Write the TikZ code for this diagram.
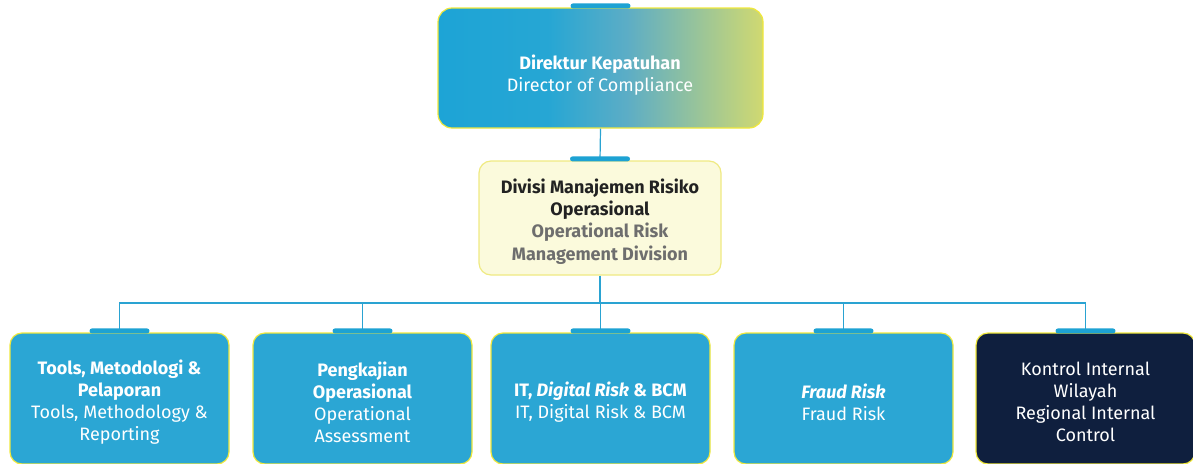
\documentclass[tikz,border=0pt]{standalone}
\usepackage{fontspec}
\setmainfont{Fira Sans}
\usetikzlibrary{calc}

\definecolor{linkblue}{RGB}{42,163,210}
\definecolor{tabblue}{RGB}{29,162,211}
\definecolor{unitblue}{RGB}{43,166,212}
\definecolor{unitnavy}{RGB}{15,31,62}
\definecolor{rimyellow}{RGB}{240,232,60}
\definecolor{paleyellow}{RGB}{251,250,220}
\definecolor{paleedge}{RGB}{239,234,130}
\definecolor{darktext}{RGB}{34,34,34}
\definecolor{greytext}{RGB}{110,110,110}

% left-to-right blend of the director box (path spans 25bp..75bp)
\pgfdeclarehorizontalshading{directorfade}{100bp}{%
  rgb(0bp)=(0.114,0.643,0.839);
  rgb(25bp)=(0.114,0.643,0.839);
  rgb(42bp)=(0.150,0.652,0.830);
  rgb(54bp)=(0.360,0.678,0.776);
  rgb(75bp)=(0.816,0.851,0.443);
  rgb(100bp)=(0.816,0.851,0.443)}

\tikzset{
  txt/.style={font=\fontsize{18}{22}\selectfont, align=center},
  unit/.style={draw=rimyellow, line width=1.2pt, rounded corners=12pt,
    minimum width=219pt, minimum height=131pt, inner sep=0pt},
  tabbar/.style={fill=tabblue, rounded corners=2.5pt, minimum width=60pt,
    minimum height=5pt, inner sep=0pt, yshift=1.5pt},
  link/.style={draw=linkblue, line width=1.2pt},
}

\begin{document}
\begin{tikzpicture}[x=1pt,y=-1pt]
\useasboundingbox (0,0) rectangle (1193,463);

% director
\node[draw=rimyellow, line width=1.2pt, rounded corners=14pt,
  shading=directorfade, minimum width=325pt, minimum height=120pt,
  inner sep=0pt] (dir) at (600.5,68) {};
\node[txt, text=white] (dirtxt) at (600,75)
  {\bfseries Direktur Kepatuhan\\Director of Compliance};

% division
\node[draw=paleedge, fill=paleyellow, line width=1.2pt, rounded corners=12pt,
  minimum width=242pt, minimum height=114pt, inner sep=0pt] (div) at (600,218) {};
\node[txt, font=\fontsize{18}{22.3}\selectfont\bfseries] (divtxt) at (600,221.5)
  {\textcolor{darktext}{Divisi Manajemen Risiko}\\
   \textcolor{darktext}{Operasional}\\
   \textcolor{greytext}{Operational Risk}\\
   \textcolor{greytext}{Management Division}};

% units
\node[unit, fill=unitblue] (u1) at (119.5,398.5) {};
\node[unit, fill=unitblue] (u2) at (362.5,398.5) {};
\node[unit, fill=unitblue] (u3) at (600.5,398.5) {};
\node[unit, fill=unitblue] (u4) at (843.5,398.5) {};
\node[unit, fill=unitnavy] (u5) at (1085.5,398.5) {};

\node[txt, text=white] (t1) at (119.5,402)
  {\bfseries Tools, Metodologi \&\\\bfseries Pelaporan\\Tools, Methodology \&\\Reporting};
\node[txt, text=white] (t2) at (362.5,402)
  {\bfseries Pengkajian\\\bfseries Operasional\\Operational\\Assessment};
\node[txt, text=white] (t3) at (600.5,402)
  {\bfseries IT, \textit{Digital Risk} \& BCM\\IT, Digital Risk \& BCM};
\node[txt, text=white] (t4) at (843.5,402)
  {\bfseries\itshape Fraud Risk\\Fraud Risk};
\node[txt, text=white] (t5) at (1085.5,402)
  {Kontrol Internal\\Wilayah\\Regional Internal\\Control};

% connectors
\coordinate (bus) at (600,303);
\draw[link] (dir.south) -- (div.north);
\draw[link] (div.south) -- (bus);
\foreach \u in {u1,u2,u3,u4,u5}
  \draw[link] (bus) -| (\u.north);

% tabs on top edges
\node[tabbar] (tdir) at (dir.north) {};
\node[tabbar] (tdiv) at (div.north) {};
\foreach \u in {u1,u2,u3,u4,u5}
  \node[tabbar] (tab\u) at (\u.north) {};
\end{tikzpicture}
\end{document}
